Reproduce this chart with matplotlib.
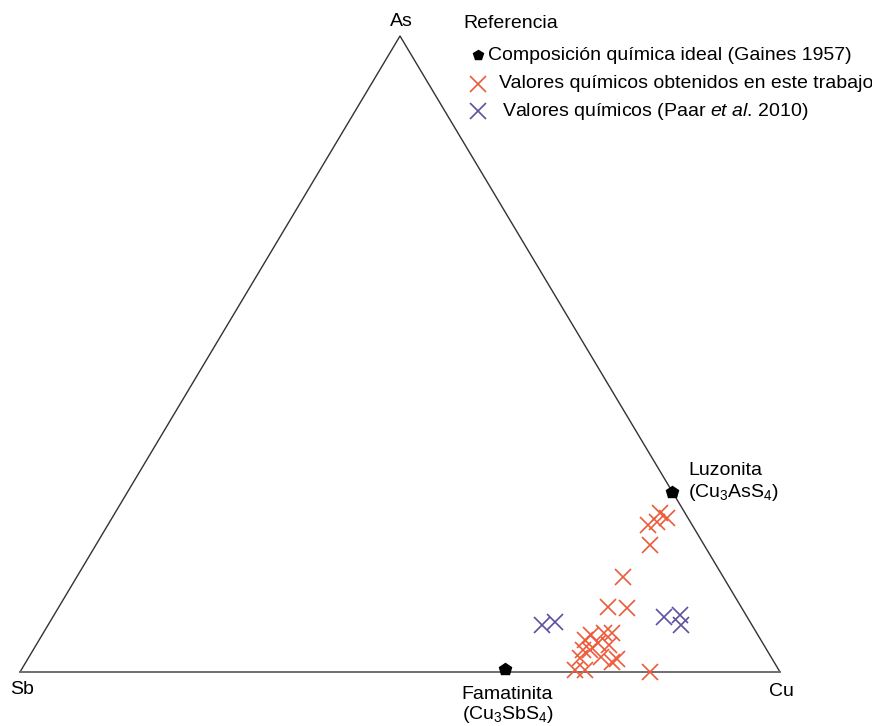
import matplotlib.pyplot as plt
import numpy as np

plt.rcParams["font.family"] = ["Liberation Sans", "DejaVu Sans"]
plt.rcParams["mathtext.fontset"] = "custom"
plt.rcParams["mathtext.rm"] = "Liberation Sans"
plt.rcParams["mathtext.it"] = "Liberation Sans:italic"

# compositions in % (Sb = 100 - As - Cu)
ideal_as = [28.3, 0.5]
ideal_cu = [71.7, 63.5]

this_as = [23.1, 23.6, 25.0, 24.2, 20.0, 14.9, 10.2, 10.1,
           5.8, 6.1, 6.1, 5.0, 4.6, 3.5, 4.2, 2.2, 2.4, 2.0,
           0.3, 0.3, 1.6, 0.0, 3.5]
this_cu = [71.1, 72.0, 71.7, 73.0, 72.9, 71.9, 72.3, 74.8,
           72.2, 73.8, 74.8, 71.8, 73.8, 72.3, 75.4, 72.6, 75.2, 77.6,
           72.9, 74.2, 77.1, 82.9, 73.2]

paar_as = [7.4, 7.9, 8.6, 9.0, 7.4]
paar_cu = [65.0, 66.4, 80.4, 82.3, 83.3]

legend_title = "Referencia"
legend_labels = ["Composición química ideal (Gaines 1957)",
                 "Valores químicos obtenidos en este trabajo",
                 "Valores químicos (Paar $\\it{et\\ al}$. 2010)"]

red = "#ec5a3a"
purple = "#5e4fa2"
fs = 14
W, H = 872, 726


def tern(a, c):
    a = np.asarray(a) / 100.0
    c = np.asarray(c) / 100.0
    return c + a / 2, a


def px(x, y):
    # pixel position -> axes fraction (axes fill the figure)
    return x / W, 1 - y / H


fig = plt.figure(figsize=(W / 100, H / 100), dpi=100)
ax = fig.add_axes([0, 0, 1, 1])
ax.axis("off")
ax.set_xlim(-20 / 760, 1 + 92 / 760)
ax.set_ylim(-54 / 636, 1 + 36 / 636)

# triangle
ax.plot([0, 0.5, 1], [0, 1, 0], color="#333333", lw=1.0)
ax.plot([0, 1], [0, 0], color="#6f6f6f", lw=1.4)

x, y = tern(this_as, this_cu)
ax.plot(x, y, "x", ls="none", color=red, ms=11, mew=1.2)
x, y = tern(paar_as, paar_cu)
ax.plot(x, y, "x", ls="none", color=purple, ms=11, mew=1.2)
lx, ly = tern(ideal_as, ideal_cu)
ax.plot(lx, ly, "p", ls="none", color="black", ms=9)

# vertex labels
ax.text(*px(401, 22), "As", ha="center", va="center", fontsize=fs, transform=ax.transAxes)
ax.text(*px(22, 690), "Sb", ha="center", va="center", fontsize=fs, transform=ax.transAxes)
ax.text(*px(769, 692), "Cu", ha="left", va="center", fontsize=fs, transform=ax.transAxes)

# mineral labels
ax.annotate("Luzonita", (lx[0], ly[0]), xytext=(16, 22), textcoords="offset pixels",
            ha="left", va="center", fontsize=fs)
ax.annotate("(Cu$_3$AsS$_4$)", (lx[0], ly[0]), xytext=(16, 0), textcoords="offset pixels",
            ha="left", va="center", fontsize=fs)
ax.annotate("Famatinita", (lx[1], ly[1]), xytext=(-43, -26), textcoords="offset pixels",
            ha="left", va="center", fontsize=fs)
ax.annotate("(Cu$_3$SbS$_4$)", (lx[1], ly[1]), xytext=(-43, -46), textcoords="offset pixels",
            ha="left", va="center", fontsize=fs)

# legend (drawn by hand to keep the indents of the original)
ax.text(*px(463, 24), legend_title, ha="left", va="center", fontsize=fs, transform=ax.transAxes)
ax.plot(*px(478, 55), "p", color="black", ms=7.5, transform=ax.transAxes)
ax.text(*px(488, 56), legend_labels[0], ha="left", va="center", fontsize=fs, transform=ax.transAxes)
ax.plot(*px(478, 84), "x", color=red, ms=11, mew=1.2, transform=ax.transAxes)
ax.text(*px(499, 84), legend_labels[1], ha="left", va="center", fontsize=fs, transform=ax.transAxes)
ax.plot(*px(478, 111), "x", color=purple, ms=11, mew=1.2, transform=ax.transAxes)
ax.text(*px(502, 111), legend_labels[2], ha="left", va="center", fontsize=fs, transform=ax.transAxes)

fig.savefig("out.png", dpi=100)
